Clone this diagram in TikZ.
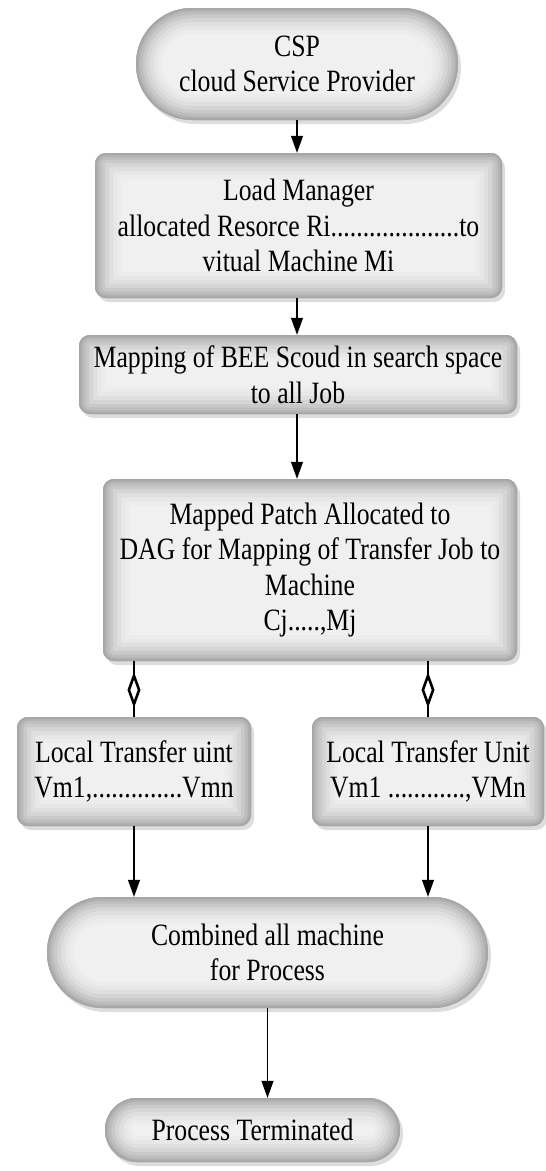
\documentclass[tikz,border=0pt]{standalone}
\usepackage{fontspec}
\setmainfont{Liberation Serif}[FakeStretch=0.83]
\usepackage{tikz}
\usetikzlibrary{arrows.meta,shadows,decorations.markings}

\tikzset{
  glow/.style={rounded corners=#1, inner sep=0pt, fill=gray!12,
    align=center, font=\fontsize{31}{35.5}\selectfont,
    drop shadow={shadow xshift=3pt, shadow yshift=-4pt, fill=gray!45, opacity=0.6},
    path picture={
      \foreach \w/\shd in {52/15,44/19,36/25,28/33,20/42,13/52,7/62,3/70}
        \draw[gray!\shd, line width=\w pt, rounded corners=#1]
          (path picture bounding box.south west) rectangle (path picture bounding box.north east);
    }},
  flowbox/.style={glow=11pt},
  flowline/.style={line width=1.3pt, -{Triangle[length=17pt,width=12pt]}},
  linkline/.style={line width=1.3pt, postaction={decorate},
    decoration={markings, mark=at position 0.84 with
      {\arrow{Diamond[length=36pt,width=13pt,fill=white,line width=2.6pt]}}}}
}

\begin{document}
\begin{tikzpicture}[x=1pt,y=1pt]
\useasboundingbox (0,0) rectangle (546,-1171);

\node[glow=56pt, minimum width=322pt, minimum height=112pt] (csp) at (297,-64)
  {CSP\\cloud Service Provider};
\node[flowbox, minimum width=407pt, minimum height=145pt] (loadmgr) at (298.5,-225.5)
  {Load Manager\\allocated Resorce Ri....................to\\vitual Machine Mi};
\node[flowbox, minimum width=438pt, minimum height=79pt] (mapping) at (298,-374.5)
  {Mapping of BEE Scoud in search space\\to all Job};
\node[flowbox, minimum width=414pt, minimum height=182pt] (patch) at (310,-570)
  {Mapped Patch Allocated to\\DAG for Mapping of Transfer Job to\\Machine\\Cj.....,Mj};
\node[flowbox, minimum width=234pt, minimum height=109pt] (ltuA) at (134,-771.5)
  {Local Transfer uint\\Vm1,..............Vmn};
\node[flowbox, minimum width=232pt, minimum height=109pt] (ltuB) at (428,-771.5)
  {Local Transfer Unit\\Vm1 ............,VMn};
\node[glow=55.5pt, minimum width=441pt, minimum height=111pt] (combined) at (267.5,-952.5)
  {Combined all machine\\for Process};
\node[glow=32pt, minimum width=295pt, minimum height=64pt] (terminated) at (252.5,-1130)
  {Process Terminated};

\draw[flowline] (csp.south) -- (csp.south |- loadmgr.north);
\draw[flowline] (loadmgr.south -| csp.south) -- (csp.south |- mapping.north);
\draw[flowline] (mapping.south -| csp.south) -- (csp.south |- patch.north);
\draw[linkline] (ltuA.north |- patch.south) -- (ltuA.north);
\draw[linkline] (ltuB.north |- patch.south) -- (ltuB.north);
\draw[flowline] (ltuA.south) -- (ltuA.south |- combined.north);
\draw[flowline] (ltuB.south) -- (ltuB.south |- combined.north);
\draw[flowline] (combined.south) -- (combined.south |- terminated.north);
\end{tikzpicture}
\end{document}
